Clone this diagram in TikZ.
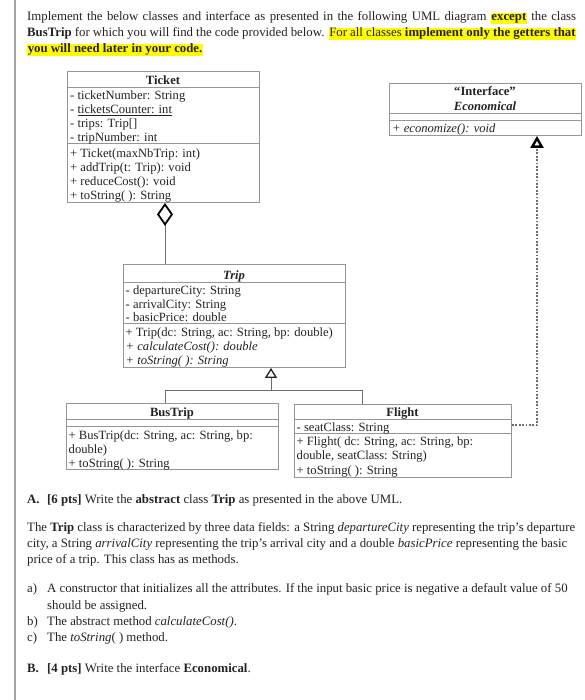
\documentclass[tikz,border=0pt]{standalone}
\usepackage{fontspec}
\setmainfont{Liberation Serif}
\usetikzlibrary{arrows.meta,shapes.geometric}
\definecolor{hl}{RGB}{255,250,0}
\definecolor{boxgray}{RGB}{150,150,150}
\definecolor{txt}{RGB}{35,35,35}
\definecolor{lnk}{RGB}{110,110,110}
\newcommand{\hlbox}[1]{{\setlength{\fboxsep}{0.6pt}\colorbox{hl}{#1}}}
\begin{document}
\begin{tikzpicture}[x=1pt,y=-1pt,
  txtline/.style={anchor=base west, inner sep=0pt, font=\fontsize{12.8}{15}\selectfont, text=txt},
  umltxt/.style={anchor=base west, inner sep=0pt, font=\fontsize{12.6}{14}\selectfont, text=txt},
  umltitle/.style={anchor=base, inner sep=0pt, font=\fontsize{12.6}{14}\selectfont\bfseries, text=txt},
  umlbox/.style={draw=boxgray, line width=0.9pt, rectangle, inner sep=0pt, anchor=north west},
  sepline/.style={draw=boxgray, line width=0.9pt},
  link/.style={draw=lnk, line width=1pt},
  reallink/.style={draw=lnk, line width=1.2pt, dash pattern=on 1.8pt off 1.6pt},
]
\useasboundingbox (0,0) rectangle (585,700);
\fill[white] (0,0) rectangle (585,700);
\draw[draw=black!35, line width=1.2pt] (15,0) -- (15,700);

% ---------- top text
\node[txtline] (p1) at (27,21) {\makebox[549pt][s]{Implement the below classes and interface as presented in the following UML diagram \hlbox{\textbf{except}} the class}};
\node[txtline] (p2) at (27,37) {\makebox[549pt][s]{\textbf{BusTrip} for which you will find the code provided below. \hlbox{For all classes \textbf{implement only the getters that}}}};
\node[txtline] (p3) at (27,53) {\hlbox{\textbf{you will need later in your code.}}};

% ---------- Ticket
\node[umlbox, minimum width=192pt, minimum height=131pt] (ticket) at (67,71) {};
\draw[sepline] (ticket.west |- 0,87) -- (ticket.east |- 0,87);
\draw[sepline] (ticket.west |- 0,143) -- (ticket.east |- 0,143);
\node[umltitle] (ticketT) at (163,84.5) {Ticket};
\node[umltxt] (t1) at (70,100) {- ticketNumber: String};
\node[umltxt] (t2) at (70,114) {- \underline{ticketsCounter: int}};
\node[umltxt] (t3) at (70,128) {- trips: Trip[]};
\node[umltxt] (t4) at (70,142) {- tripNumber: int};
\node[umltxt] (t5) at (70,158) {+ Ticket(maxNbTrip: int)};
\node[umltxt] (t6) at (70,172) {+ addTrip(t: Trip): void};
\node[umltxt] (t7) at (70,186) {+ reduceCost(): void};
\node[umltxt] (t8) at (70,200) {+ toString( ): String};

% ---------- Interface
\node[umlbox, minimum width=192pt, minimum height=52pt] (econ) at (389,83) {};
\draw[sepline] (econ.west |- 0,113) -- (econ.east |- 0,113);
\draw[sepline] (econ.west |- 0,120) -- (econ.east |- 0,120);
\node[umltitle] (econT1) at (485,95.5) {“Interface”};
\node[umltitle] (econT2) at (485,110.5) {\textit{Economical}};
\node[umltxt] (e1) at (392,132.5) {\textit{+ economize(): void}};

% ---------- Trip
\node[umlbox, minimum width=222pt, minimum height=103pt] (trip) at (123,264) {};
\draw[sepline] (trip.west |- 0,282) -- (trip.east |- 0,282);
\draw[sepline] (trip.west |- 0,323) -- (trip.east |- 0,323);
\node[umltitle] (tripT) at (234,279.5) {\textit{Trip}};
\node[umltxt] (r1) at (125.5,294.5) {- departureCity: String};
\node[umltxt] (r2) at (125.5,308) {- arrivalCity: String};
\node[umltxt] (r3) at (125.5,321.5) {- basicPrice: double};
\node[umltxt] (r4) at (125.5,336.5) {+ Trip(dc: String, ac: String, bp: double)};
\node[umltxt] (r5) at (125.5,350.5) {\textit{+ calculateCost(): double}};
\node[umltxt] (r6) at (125.5,364.5) {\textit{+ toString( ): String}};

% ---------- BusTrip
\node[umlbox, minimum width=212pt, minimum height=66pt] (bus) at (66,403) {};
\draw[sepline] (bus.west |- 0,419) -- (bus.east |- 0,419);
\draw[sepline] (bus.west |- 0,426) -- (bus.east |- 0,426);
\node[umltitle] (busT) at (172,416.5) {BusTrip};
\node[umltxt] (b1) at (68.5,439.5) {+ BusTrip(dc: String, ac: String, bp:};
\node[umltxt] (b2) at (68.5,453) {double)};
\node[umltxt] (b3) at (68.5,467) {+ toString( ): String};

% ---------- Flight
\node[umlbox, minimum width=217pt, minimum height=73pt] (flight) at (294,404) {};
\draw[sepline] (flight.west |- 0,419) -- (flight.east |- 0,419);
\draw[sepline] (flight.west |- 0,433) -- (flight.east |- 0,433);
\node[umltitle] (flightT) at (402.5,416.5) {Flight};
\node[umltxt] (f1) at (296.5,431) {- seatClass: String};
\node[umltxt] (f2) at (296.5,445.5) {+ Flight( dc: String, ac: String, bp:};
\node[umltxt] (f3) at (296.5,459.5) {double, seatClass: String)};
\node[umltxt] (f4) at (296.5,474.5) {+ toString( ): String};

% ---------- connectors
\coordinate (jD) at (165,230);
\draw[link, {Diamond[open, length=23pt, width=16pt, color=black, line width=1.8pt]}-] (ticket.south -| jD) -- (trip.north -| jD);

\coordinate (jB) at (165,390);
\coordinate (jT) at (271,390);
\coordinate (jF) at (362,390);
\draw[link] (bus.north -| jB) -- (jB) -- (jF) -- (flight.north -| jF);
\draw[link, -{Triangle[open, length=10pt, width=12pt, line width=1.3pt, color=txt]}] (jT) -- (trip.south -| jT);

\coordinate (jE) at (537,425);
\draw[reallink, -{Triangle[open, length=12pt, width=13pt, line width=2.4pt, color=black]}] (flight.east |- jE) -- (jE) -- (econ.south -| jE);

% ---------- bottom text
\node[txtline] (qa) at (27,503.5) {\textbf{A.}};
\node[txtline] (qa2) at (47,503.5) {\textbf{[6 pts]} Write the \textbf{abstract} class \textbf{Trip} as presented in the above UML.};
\node[txtline] (d1) at (27,531.5) {The \textbf{Trip} class is characterized by three data fields: a String \textit{departureCity} representing the trip’s departure};
\node[txtline] (d2) at (27,547.5) {city, a String \textit{arrivalCity} representing the trip’s arrival city and a double \textit{basicPrice} representing the basic};
\node[txtline] (d3) at (27,563.5) {price of a trip. This class has as methods.};
\node[txtline] (la) at (27,592.5) {a)};
\node[txtline] (la2) at (47,592.5) {A constructor that initializes all the attributes. If the input basic price is negative a default value of 50};
\node[txtline] (la3) at (47,609) {should be assigned.};
\node[txtline] (lb) at (27,625.5) {b)};
\node[txtline] (lb2) at (47,625.5) {The abstract method \textit{calculateCost()}.};
\node[txtline] (lc) at (27,641.5) {c)};
\node[txtline] (lc2) at (47,641.5) {The \textit{toString}( ) method.};
\node[txtline] (qb) at (27,672.5) {\textbf{B.}};
\node[txtline] (qb2) at (47,672.5) {\textbf{[4 pts]} Write the interface \textbf{Economical}.};
\end{tikzpicture}
\end{document}
